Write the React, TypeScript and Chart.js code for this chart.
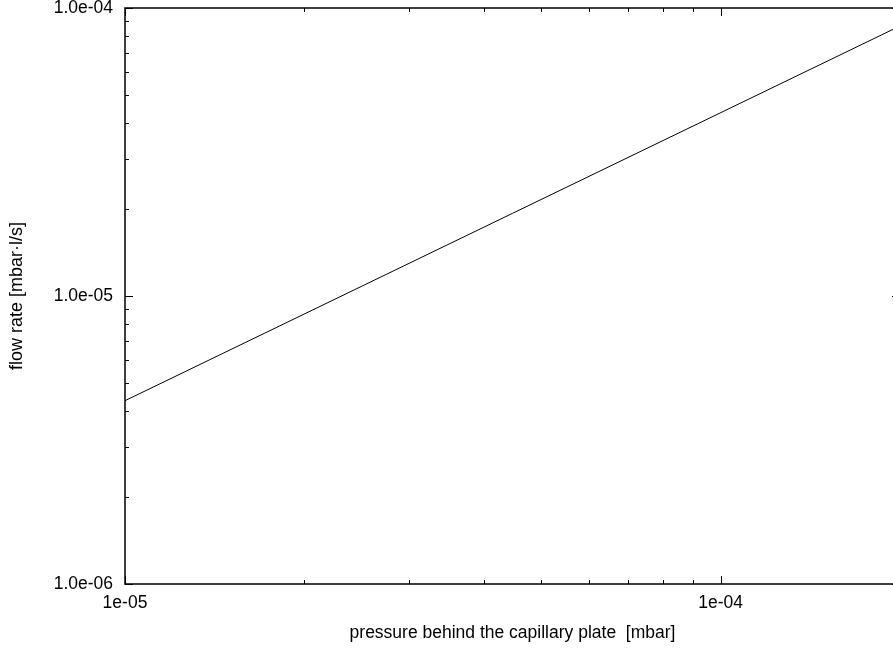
import React, { useEffect, useRef } from 'react';
import { Chart, registerables } from 'chart.js';

Chart.register(...registerables);

// ---- data ----
const pressure = [1e-5, 2e-4];
const flowRate = [4.33e-6, 8.66e-5];

const xRange = [1e-5, 2e-4];
const yRange = [1e-6, 1e-4];

const xTickValues = [1e-5, 1e-4];
const xTickLabels = ['1e-05', '1e-04'];
const yTickValues = [1e-6, 1e-5, 1e-4];
const yTickLabels = ['1.0e-06', '1.0e-05', '1.0e-04'];
const minorMultipliers = [2, 3, 4, 5, 6, 7, 8, 9];

const xTitle = 'pressure behind the capillary plate  [mbar]';
const yTitle = 'flow rate [mbar\u00b7l/s]';

const FONT = '"Liberation Sans", Arial, Helvetica, sans-serif';
const W = 910;
const H = 648;

const framePlugin = {
  id: 'frameTicks',
  afterDatasetsDraw(chart: any) {
    const { ctx, chartArea: a, scales } = chart;
    const xs = scales.x;
    const ys = scales.y;
    ctx.save();
    ctx.strokeStyle = '#000';
    const seg = (x1: number, y1: number, x2: number, y2: number) => {
      ctx.beginPath();
      ctx.moveTo(x1, y1);
      ctx.lineTo(x2, y2);
      ctx.stroke();
    };
    ctx.lineWidth = 1;
    const maj = 8, min = 4;
    xTickValues.forEach((d) => {
      [1, ...minorMultipliers].forEach((m) => {
        const v = d * m;
        if (v < xRange[0] || v >= xRange[1] * 0.999) return;
        const px = Math.round(xs.getPixelForValue(v)) + 0.5;
        const len = m === 1 ? maj : min;
        seg(px, a.bottom, px, a.bottom - len);
        seg(px, a.top, px, a.top + len);
      });
    });
    yTickValues.forEach((d) => {
      [1, ...minorMultipliers].forEach((m) => {
        const v = d * m;
        if (v < yRange[0] || v > yRange[1] * 1.001) return;
        const py = Math.round(ys.getPixelForValue(v)) + 0.5;
        const len = m === 1 ? maj : min;
        seg(a.left, py, a.left + len, py);
        seg(a.right, py, a.right - len, py);
      });
    });
    ctx.lineWidth = 1.5;
    ctx.strokeRect(a.left, a.top, a.right - a.left, a.bottom - a.top);
    ctx.restore();
  },
};

export default function App() {
  const ref = useRef<HTMLCanvasElement>(null);
  useEffect(() => {
    if (!ref.current) return;
    const chart = new Chart(ref.current, {
      type: 'scatter',
      data: {
        datasets: [
          {
            data: pressure.map((p, i) => ({ x: p, y: flowRate[i] })),
            showLine: true,
            borderColor: '#000',
            borderWidth: 1,
            pointRadius: 0,
            fill: false,
          },
        ],
      },
      options: {
        animation: false,
        responsive: false,
        devicePixelRatio: 1,
        layout: { padding: { left: 0, top: 8, right: 10, bottom: 0 } },
        plugins: { legend: { display: false }, tooltip: { enabled: false } },
        scales: {
          x: {
            type: 'logarithmic',
            min: xRange[0],
            max: xRange[1],
            grid: { display: false, drawTicks: false },
            border: { display: false },
            afterBuildTicks: (s: any) => {
              s.ticks = xTickValues.map((v) => ({ value: v, major: true }));
            },
            afterFit: (s: any) => {
              s.height = 64;
              s.paddingLeft = 0;
              s.paddingRight = 0;
            },
            ticks: {
              autoSkip: false,
              maxRotation: 0,
              padding: 9,
              color: '#000',
              font: { family: FONT, size: 17.5 },
              callback: (v: any) => {
                const i = xTickValues.findIndex((t) => Math.abs(t - Number(v)) / t < 1e-6);
                return i >= 0 ? xTickLabels[i] : '';
              },
            },
            title: {
              display: true,
              text: xTitle,
              color: '#000',
              font: { family: FONT, size: 17.5 },
              padding: { top: 0, bottom: 4 },
            },
          },
          y: {
            type: 'logarithmic',
            min: yRange[0],
            max: yRange[1],
            grid: { display: false, drawTicks: false },
            border: { display: false },
            afterBuildTicks: (s: any) => {
              s.ticks = yTickValues.map((v) => ({ value: v, major: true }));
            },
            afterFit: (s: any) => {
              s.width = 125;
              s.paddingTop = 0;
              s.paddingBottom = 0;
            },
            ticks: {
              autoSkip: false,
              padding: 12,
              color: '#000',
              font: { family: FONT, size: 17.5 },
              callback: (v: any) => {
                const i = yTickValues.findIndex((t) => Math.abs(t - Number(v)) / t < 1e-6);
                return i >= 0 ? yTickLabels[i] : '';
              },
            },
            title: {
              display: true,
              text: yTitle,
              color: '#000',
              font: { family: FONT, size: 18 },
              padding: { top: 6, bottom: 0 },
            },
          },
        },
      },
      plugins: [framePlugin],
    });
    return () => chart.destroy();
  }, []);

  return (
    <div
      style={{
        position: 'fixed',
        left: 0,
        top: 0,
        width: 893,
        height: 648,
        overflow: 'hidden',
        background: '#fff',
      }}
    >
      <canvas ref={ref} width={W} height={H} style={{ width: W, height: H, display: 'block' }} />
    </div>
  );
}
